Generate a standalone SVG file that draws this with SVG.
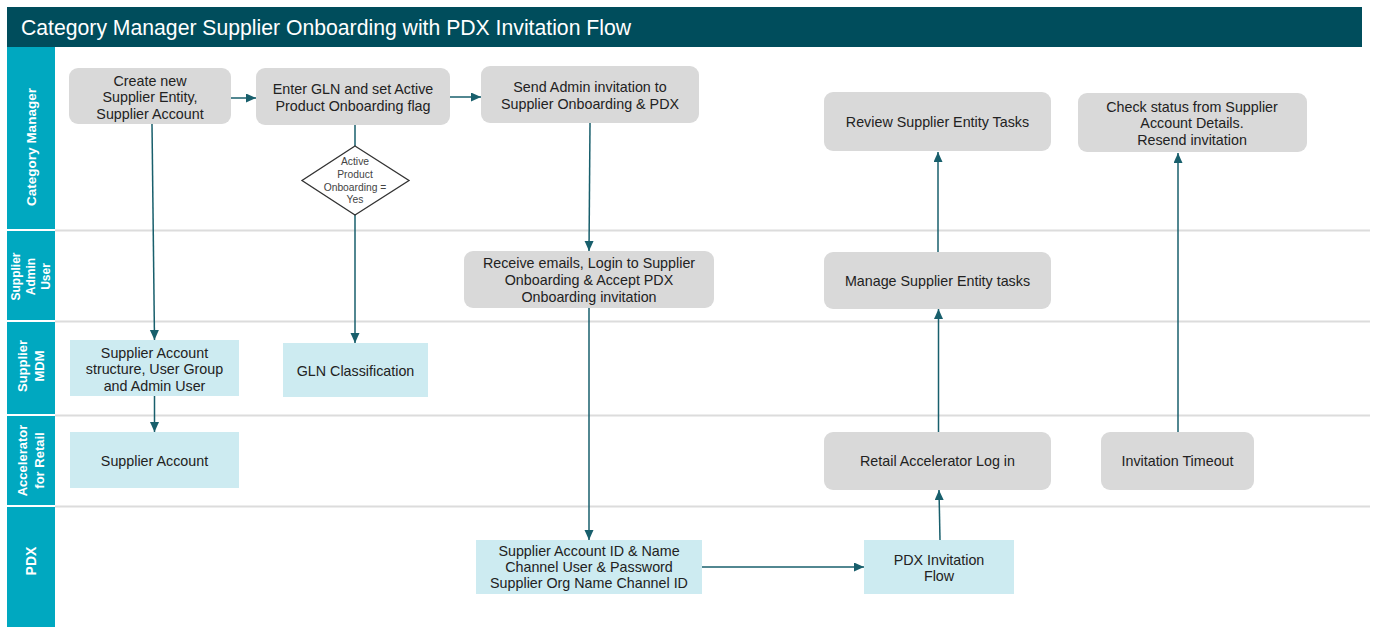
<svg xmlns="http://www.w3.org/2000/svg" width="1373" height="627" viewBox="0 0 1373 627">
<style>
.t{font-family:"Liberation Sans",Arial,sans-serif;font-size:14.3px;fill:#222;text-anchor:middle}
.lane{font-family:"Liberation Sans",Arial,sans-serif;font-weight:bold;fill:#fff;text-anchor:middle}
.g{fill:#d9d9d9}
.b{fill:#cdebf1}
.sep{stroke:#dcdcdc;stroke-width:2}
.c{stroke:#185f6c;stroke-width:1.5;fill:none}
.ca{stroke:#185f6c;stroke-width:1.5;fill:none;marker-end:url(#ah)}
.dt{font-family:"Liberation Sans",Arial,sans-serif;font-size:10.3px;fill:#444;text-anchor:middle}
</style>
<defs>
<marker id="ah" markerUnits="userSpaceOnUse" markerWidth="11" markerHeight="10" refX="10" refY="4.5" orient="auto">
<path d="M0,0 L10,4.5 L0,9 z" fill="#185f6c"/>
</marker>
</defs>
<rect width="1373" height="627" fill="#fff"/>
<g id="title">
<rect x="7" y="7" width="1355" height="40" fill="#004d5c"/>
<text x="21" y="34.5" font-family="Liberation Sans,Arial,sans-serif" font-size="21.2" fill="#fff">Category Manager Supplier Onboarding with PDX Invitation Flow</text>
</g>
<g id="lanes">
<line class="sep" x1="55" y1="230.5" x2="1370" y2="230.5"/>
<line class="sep" x1="55" y1="321.5" x2="1370" y2="321.5"/>
<line class="sep" x1="55" y1="415.5" x2="1370" y2="415.5"/>
<line class="sep" x1="55" y1="506.5" x2="1370" y2="506.5"/>
<rect x="7" y="47" width="48" height="182" fill="#00a8c0"/>
<rect x="7" y="231" width="48" height="89" fill="#00a8c0"/>
<rect x="7" y="322" width="48" height="92" fill="#00a8c0"/>
<rect x="7" y="416" width="48" height="89" fill="#00a8c0"/>
<rect x="7" y="507" width="48" height="120" fill="#00a8c0"/>
<text class="lane" font-size="13.5" transform="translate(36,147) rotate(-90)">Category Manager</text>
<text class="lane" font-size="12" transform="translate(31,276.5) rotate(-90)"><tspan x="0" y="-11">Supplier</tspan><tspan x="0" y="4">Admin</tspan><tspan x="0" y="19">User</tspan></text>
<text class="lane" font-size="13" transform="translate(31,366) rotate(-90)"><tspan x="0" y="-4">Supplier</tspan><tspan x="0" y="13">MDM</tspan></text>
<text class="lane" font-size="13" transform="translate(31,460.5) rotate(-90)"><tspan x="0" y="-4">Accelerator</tspan><tspan x="0" y="13">for Retail</tspan></text>
<text class="lane" font-size="14" transform="translate(36,561) rotate(-90)">PDX</text>
</g>
<g id="connectors">
<line class="ca" x1="231" y1="98" x2="256" y2="98"/>
<line class="ca" x1="450" y1="97" x2="481" y2="97"/>
<line class="ca" x1="152" y1="124" x2="154.5" y2="340"/>
<line class="c" x1="355" y1="125" x2="355" y2="146"/>
<line class="ca" x1="355" y1="215" x2="355" y2="343"/>
<line class="ca" x1="154.5" y1="396" x2="154.5" y2="432"/>
<line class="ca" x1="590" y1="123" x2="589" y2="251"/>
<line class="ca" x1="589" y1="308" x2="589" y2="540"/>
<line class="ca" x1="702" y1="567" x2="864" y2="567"/>
<line class="ca" x1="940" y1="540" x2="939" y2="490"/>
<line class="ca" x1="938.5" y1="432" x2="938.5" y2="309"/>
<line class="ca" x1="938" y1="252" x2="938" y2="152"/>
<line class="ca" x1="1178" y1="432" x2="1178" y2="153"/>
</g>
<g id="n-create">
<rect class="g" x="69" y="68" width="162" height="56" rx="9"/>
<text class="t"><tspan x="150" y="85.5">Create new</tspan><tspan x="150" y="102">Supplier Entity,</tspan><tspan x="150" y="119">Supplier Account</tspan></text>
</g>
<g id="n-gln">
<rect class="g" x="256" y="68" width="194" height="57" rx="9"/>
<text class="t"><tspan x="353" y="94">Enter GLN and set Active</tspan><tspan x="353" y="111">Product Onboarding flag</tspan></text>
</g>
<g id="n-send">
<rect class="g" x="481" y="66" width="218" height="57" rx="9"/>
<text class="t"><tspan x="590" y="92">Send Admin invitation to</tspan><tspan x="590" y="109">Supplier Onboarding &amp; PDX</tspan></text>
</g>
<g id="n-decision">
<polygon points="355,146 409,180.5 355,215 302,180.5" fill="#fff" stroke="#333" stroke-width="1.3"/>
<text class="dt"><tspan x="355" y="164.5">Active</tspan><tspan x="355" y="177.5">Product</tspan><tspan x="355" y="190.5">Onboarding =</tspan><tspan x="355" y="203">Yes</tspan></text>
</g>
<g id="n-receive">
<rect class="g" x="464" y="251" width="250" height="57" rx="9"/>
<text class="t"><tspan x="589" y="268">Receive emails, Login to Supplier</tspan><tspan x="589" y="285">Onboarding &amp; Accept PDX</tspan><tspan x="589" y="301.5">Onboarding invitation</tspan></text>
</g>
<g id="n-review">
<rect class="g" x="824" y="92" width="227" height="59" rx="9"/>
<text class="t" x="937.5" y="126.5">Review Supplier Entity Tasks</text>
</g>
<g id="n-check">
<rect class="g" x="1078" y="93" width="229" height="59" rx="9"/>
<text class="t"><tspan x="1192" y="111.5">Check status from Supplier</tspan><tspan x="1192" y="128">Account Details.</tspan><tspan x="1192" y="144.5">Resend invitation</tspan></text>
</g>
<g id="n-manage">
<rect class="g" x="824" y="252" width="227" height="57" rx="9"/>
<text class="t" x="937.5" y="286">Manage Supplier Entity tasks</text>
</g>
<g id="n-mdm">
<rect class="b" x="70" y="340" width="169" height="56"/>
<text class="t"><tspan x="154.5" y="357.5">Supplier Account</tspan><tspan x="154.5" y="374">structure, User Group</tspan><tspan x="154.5" y="390.5">and Admin User</tspan></text>
</g>
<g id="n-glnclass">
<rect class="b" x="283" y="343" width="145" height="54"/>
<text class="t" x="355.5" y="375.5">GLN Classification</text>
</g>
<g id="n-account">
<rect class="b" x="70" y="432" width="169" height="56"/>
<text class="t" x="154.5" y="466">Supplier Account</text>
</g>
<g id="n-retail">
<rect class="g" x="824" y="432" width="227" height="58" rx="9"/>
<text class="t" x="937.5" y="466">Retail Accelerator Log in</text>
</g>
<g id="n-timeout">
<rect class="g" x="1101" y="432" width="153" height="58" rx="9"/>
<text class="t" x="1177.5" y="466">Invitation Timeout</text>
</g>
<g id="n-ids">
<rect class="b" x="476" y="540" width="226" height="54"/>
<text class="t"><tspan x="589" y="555.5">Supplier Account ID &amp; Name</tspan><tspan x="589" y="572">Channel User &amp; Password</tspan><tspan x="589" y="588">Supplier Org Name Channel ID</tspan></text>
</g>
<g id="n-pdxflow">
<rect class="b" x="864" y="540" width="150" height="54"/>
<text class="t"><tspan x="939" y="565">PDX Invitation</tspan><tspan x="939" y="581">Flow</tspan></text>
</g>
</svg>
